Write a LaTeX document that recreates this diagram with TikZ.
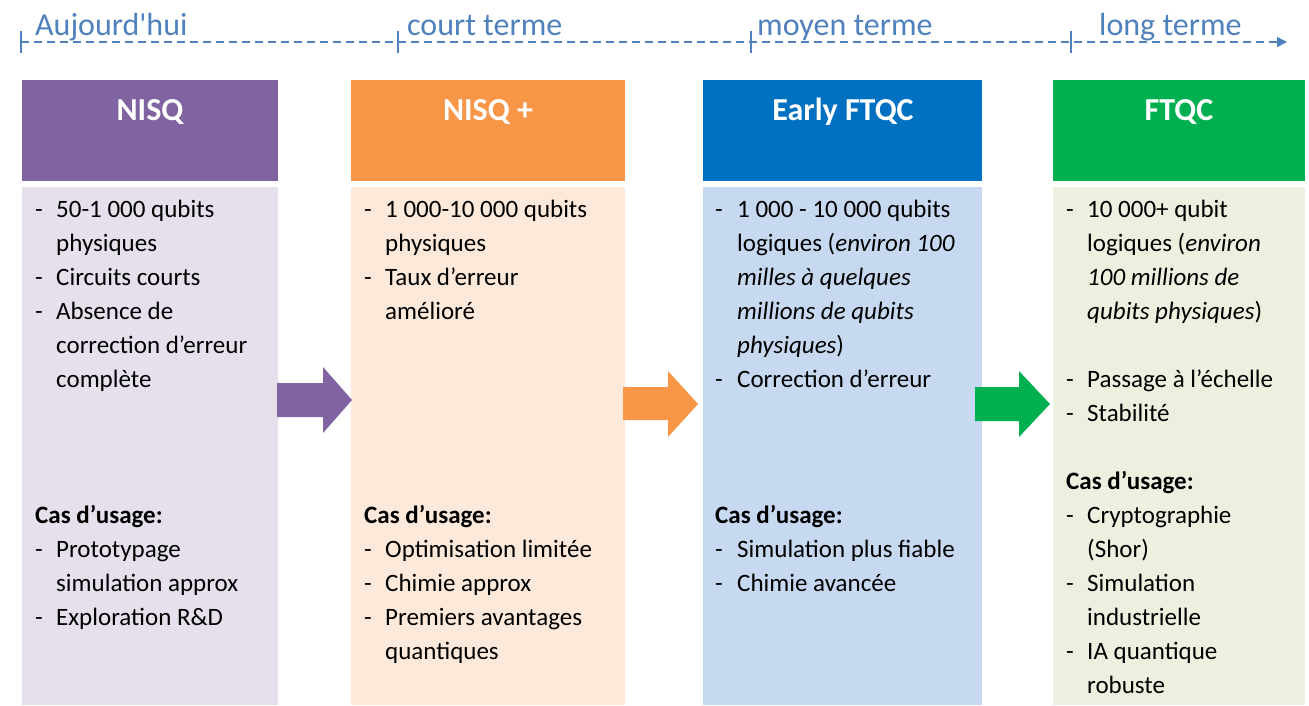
\documentclass[tikz,border=0pt]{standalone}
\usepackage{fontspec}
\setmainfont{Carlito}
\usetikzlibrary{arrows.meta}
\definecolor{tl}{HTML}{4F81BD}
\definecolor{pH}{HTML}{8064A2}
\definecolor{pB}{HTML}{E5E0EC}
\definecolor{oH}{HTML}{F79646}
\definecolor{oB}{HTML}{FDE9D9}
\definecolor{bH}{HTML}{0070C0}
\definecolor{bB}{HTML}{C6D9F1}
\definecolor{gH}{HTML}{00B050}
\definecolor{gB}{HTML}{EBF1DE}
\newcommand\bodyline[4]{\node[bodytxt] (#1) at (#2,{217+34*#3}) {#4};}
\newcommand\dashline[5]{\node[bodytxt] (#1d) at (#2,{217+34*#4}) {-};\node[bodytxt] (#1) at (#3,{217+34*#4}) {#5};}
\begin{document}
\begin{tikzpicture}[x=1pt,y=-1pt,
  bodytxt/.style={anchor=base west, inner sep=0pt, font=\fontsize{25}{30}\selectfont, text=black},
  headtxt/.style={anchor=base, inner sep=0pt, font=\fontsize{32}{36}\selectfont\bfseries, text=white},
  tltxt/.style={anchor=base west, inner sep=0pt, font=\fontsize{32}{36}\selectfont, text=tl},
  panel/.style={anchor=north west, inner sep=0pt, draw=none},
  tick/.style={draw=tl, line width=1.5pt},
  timeline/.style={draw=tl, line width=1.5pt, dash pattern=on 8pt off 5pt, -{Triangle[length=10pt,width=10pt]}}
]
\useasboundingbox (0,0) rectangle (1309,705);

% timeline
\coordinate (t0) at (21,42);
\coordinate (tend) at (1287,42);
\draw[timeline] (t0) -- (tend);
\foreach \x in {21,398,751,1071} \draw[tick] (\x,31) -- (\x,53);
\node[tltxt] (l1) at (35,35) {Aujourd\textquotesingle hui};
\node[tltxt] (l2) at (407,35) {court terme};
\node[tltxt] (l3) at (757,35) {moyen terme};
\node[tltxt] (l4) at (1099,35) {long terme};

% panels
\node[panel, fill=pH, minimum width=256pt, minimum height=101pt] (h1) at (22,80) {};
\node[panel, fill=pB, minimum width=256pt, minimum height=518pt] (b1) at (22,187) {};
\node[panel, fill=oH, minimum width=274pt, minimum height=101pt] (h2) at (351,80) {};
\node[panel, fill=oB, minimum width=274pt, minimum height=518pt] (b2) at (351,187) {};
\node[panel, fill=bH, minimum width=279pt, minimum height=101pt] (h3) at (703,80) {};
\node[panel, fill=bB, minimum width=279pt, minimum height=518pt] (b3) at (703,187) {};
\node[panel, fill=gH, minimum width=252pt, minimum height=101pt] (h4) at (1053,80) {};
\node[panel, fill=gB, minimum width=252pt, minimum height=518pt] (b4) at (1053,187) {};

\node[headtxt] (h1t) at (150,120) {NISQ};
\node[headtxt] (h2t) at (488,120) {NISQ +};
\node[headtxt] (h3t) at (843,120) {Early FTQC};
\node[headtxt] (h4t) at (1179,120) {FTQC};

% block arrows
\fill[pH] (277,383) -- (323,383) -- (323,367) -- (352,400) -- (323,433) -- (323,417) -- (277,417) -- cycle;
\fill[oH] (623,387) -- (668,387) -- (668,371) -- (698,404) -- (668,437) -- (668,420) -- (623,420) -- cycle;
\fill[gH] (975,387) -- (1019,387) -- (1019,371) -- (1050,404) -- (1019,437) -- (1019,421) -- (975,421) -- cycle;

% column 1
\dashline{a0}{35}{56}{0}{50-1 000 qubits}
\bodyline{a1}{56}{1}{physiques}
\dashline{a2}{35}{56}{2}{Circuits courts}
\dashline{a3}{35}{56}{3}{Absence de}
\bodyline{a4}{56}{4}{correction d’erreur}
\bodyline{a5}{56}{5}{complète}
\bodyline{a9}{35}{9}{\bfseries Cas d’usage:}
\dashline{a10}{35}{56}{10}{Prototypage}
\bodyline{a11}{56}{11}{simulation approx}
\dashline{a12}{35}{56}{12}{Exploration R\&D}

% column 2
\dashline{b0}{364}{385}{0}{1 000-10 000 qubits}
\bodyline{b1}{385}{1}{physiques}
\dashline{b2}{364}{385}{2}{Taux d’erreur}
\bodyline{b3}{385}{3}{amélioré}
\bodyline{b9}{364}{9}{\bfseries Cas d’usage:}
\dashline{b10}{364}{385}{10}{Optimisation limitée}
\dashline{b11}{364}{385}{11}{Chimie approx}
\dashline{b12}{364}{385}{12}{Premiers avantages}
\bodyline{b13}{385}{13}{quantiques}

% column 3
\dashline{c0}{715}{737}{0}{1 000 - 10 000 qubits}
\bodyline{c1}{737}{1}{logiques (\textit{environ 100}}
\bodyline{c2}{737}{2}{\textit{milles à quelques}}
\bodyline{c3}{737}{3}{\textit{millions de qubits}}
\bodyline{c4}{737}{4}{\textit{physiques})}
\dashline{c5}{715}{737}{5}{Correction d’erreur}
\bodyline{c9}{715}{9}{\bfseries Cas d’usage:}
\dashline{c10}{715}{737}{10}{Simulation plus fiable}
\dashline{c11}{715}{737}{11}{Chimie avancée}

% column 4
\dashline{d0}{1066}{1087}{0}{10 000+ qubit}
\bodyline{d1}{1087}{1}{logiques (\textit{environ}}
\bodyline{d2}{1087}{2}{\textit{100 millions de}}
\bodyline{d3}{1087}{3}{\textit{qubits physiques})}
\dashline{d5}{1066}{1087}{5}{Passage à l’échelle}
\dashline{d6}{1066}{1087}{6}{Stabilité}
\bodyline{d8}{1066}{8}{\bfseries Cas d’usage:}
\dashline{d9}{1066}{1087}{9}{Cryptographie}
\bodyline{d10}{1087}{10}{(Shor)}
\dashline{d11}{1066}{1087}{11}{Simulation}
\bodyline{d12}{1087}{12}{industrielle}
\dashline{d13}{1066}{1087}{13}{IA quantique}
\bodyline{d14}{1087}{14}{robuste}
\end{tikzpicture}
\end{document}
